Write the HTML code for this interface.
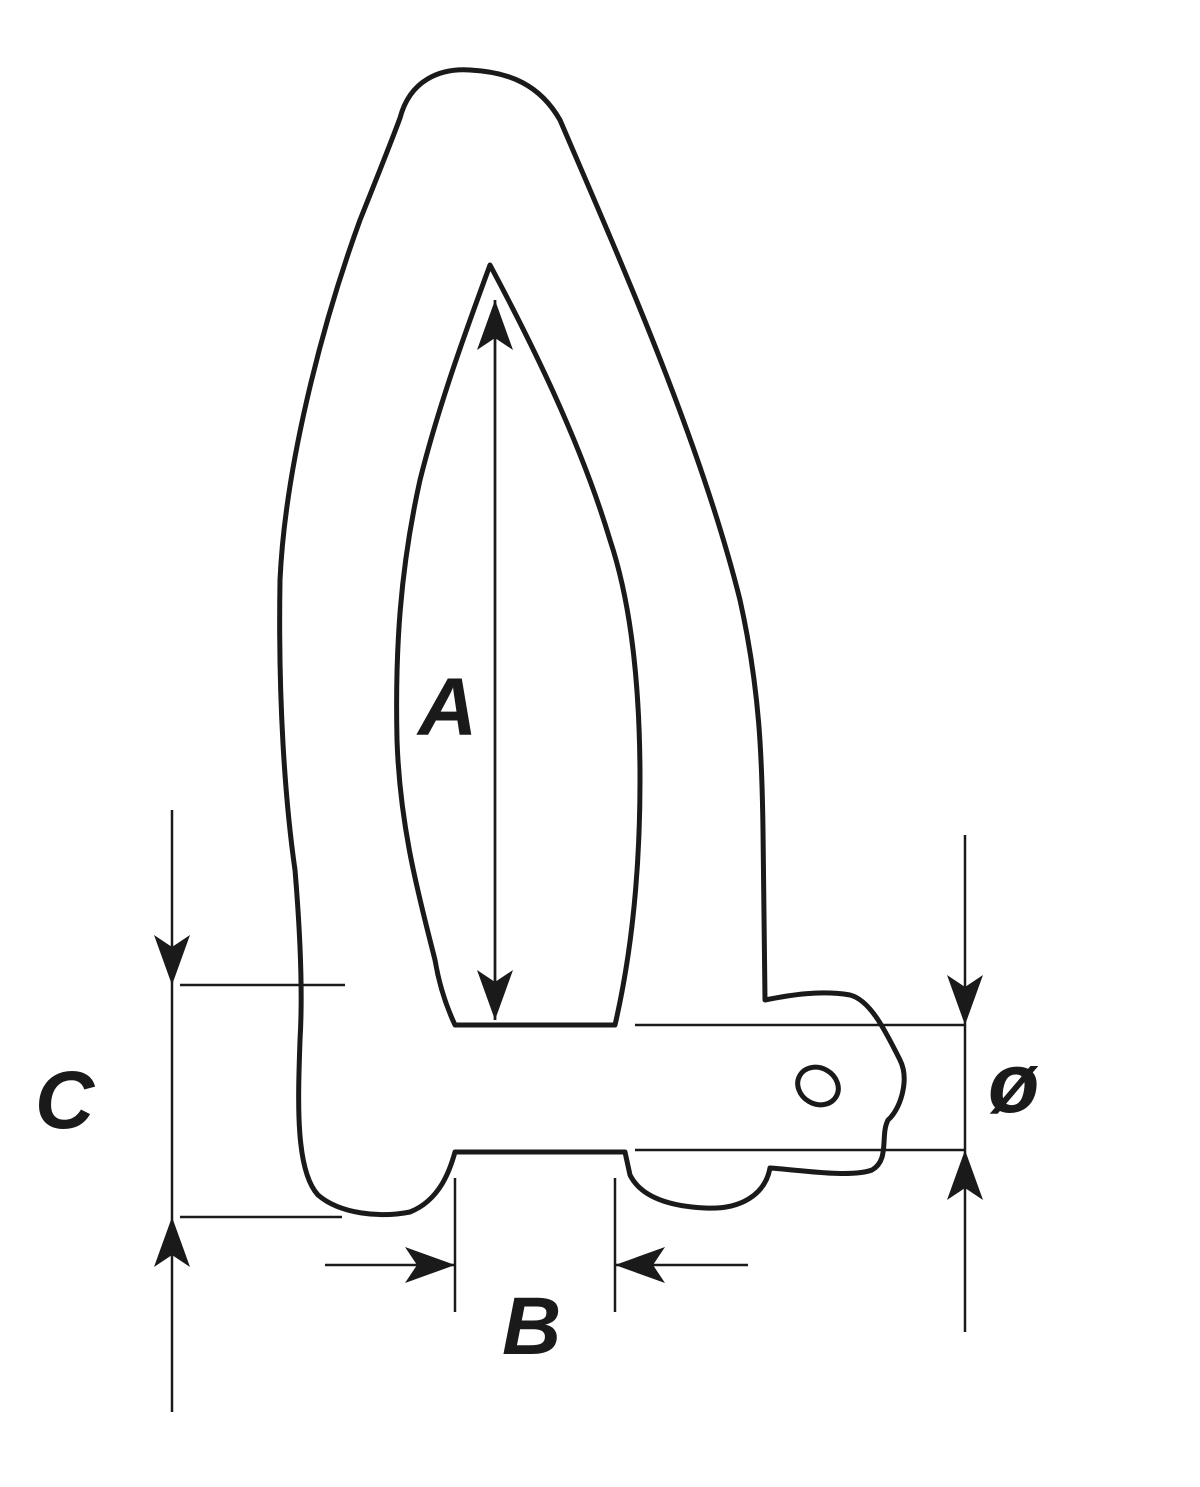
<!DOCTYPE html>
<html><head><meta charset="utf-8"><style>
html,body{margin:0;padding:0;background:#fff;}
svg{display:block;}
text{font-family:"Liberation Sans",sans-serif;font-weight:bold;font-style:italic;fill:#1a1a1a;}
</style></head><body>
<svg width="1200" height="1487" viewBox="0 0 1200 1487" xmlns="http://www.w3.org/2000/svg">
<defs>
<marker id="ah" viewBox="0 0 50 36" markerWidth="50" markerHeight="36" refX="50" refY="18" orient="auto" markerUnits="userSpaceOnUse">
<path d="M0,0 L50,18 L0,36 L12,18 Z" fill="#1a1a1a"/>
</marker>
</defs>
<g fill="none" stroke="#1a1a1a" stroke-width="5" stroke-linejoin="round">
<path d="M400,118 C410,80 440,68 470,70 C510,72 540,85 560,120
 C620,260 700,440 740,600 C760,690 762,760 763,830 L765,1000
 C790,995 820,990 850,995 C870,1000 885,1030 900,1060 C910,1080 900,1110 888,1120
 C880,1135 890,1160 872,1170 C850,1178 800,1170 770,1168
 C765,1195 740,1210 705,1208 C665,1206 640,1195 630,1175 L625,1152
 L455,1152 C450,1170 440,1200 410,1212 C380,1218 340,1214 318,1195
 C295,1170 298,1100 300,1040 C303,990 300,930 295,870
 C285,800 278,700 280,580 C285,470 320,330 360,220 C380,170 392,140 400,118 Z"/>
<path d="M490,265 C470,320 440,400 420,480 C400,570 395,650 397,740 C400,830 420,900 435,960 C440,990 448,1010 455,1025
 L615,1025 C630,960 640,880 640,780 C640,680 630,600 610,540 C580,440 530,340 490,265 Z"/>
<ellipse cx="818" cy="1086" rx="21" ry="18" transform="rotate(30 818 1086)"/>
</g>
<g stroke="#1a1a1a" stroke-width="2.5" fill="none">
<line x1="495" y1="1020" x2="495" y2="300" marker-end="url(#ah)"/>
<line x1="495" y1="300" x2="495" y2="1020" marker-end="url(#ah)"/>
<line x1="180" y1="985" x2="345" y2="985"/>
<line x1="180" y1="1217" x2="342" y2="1217"/>
<line x1="172" y1="985" x2="172" y2="1217"/>
<line x1="172" y1="810" x2="172" y2="985" marker-end="url(#ah)"/>
<line x1="172" y1="1412" x2="172" y2="1217" marker-end="url(#ah)"/>
<line x1="635" y1="1025" x2="965" y2="1025"/>
<line x1="635" y1="1150" x2="965" y2="1150"/>
<line x1="965" y1="1025" x2="965" y2="1150"/>
<line x1="965" y1="835" x2="965" y2="1025" marker-end="url(#ah)"/>
<line x1="965" y1="1332" x2="965" y2="1150" marker-end="url(#ah)"/>
<line x1="455" y1="1178" x2="455" y2="1312"/>
<line x1="615" y1="1178" x2="615" y2="1312"/>
<line x1="325" y1="1265" x2="455" y2="1265" marker-end="url(#ah)"/>
<line x1="748" y1="1265" x2="615" y2="1265" marker-end="url(#ah)"/>
</g>
<text x="418" y="735" font-size="82">A</text>
<text x="35" y="1128" font-size="82">C</text>
<text x="988" y="1112" font-size="84">ø</text>
<text x="502" y="1354" font-size="82">B</text>
</svg>
</body></html>
